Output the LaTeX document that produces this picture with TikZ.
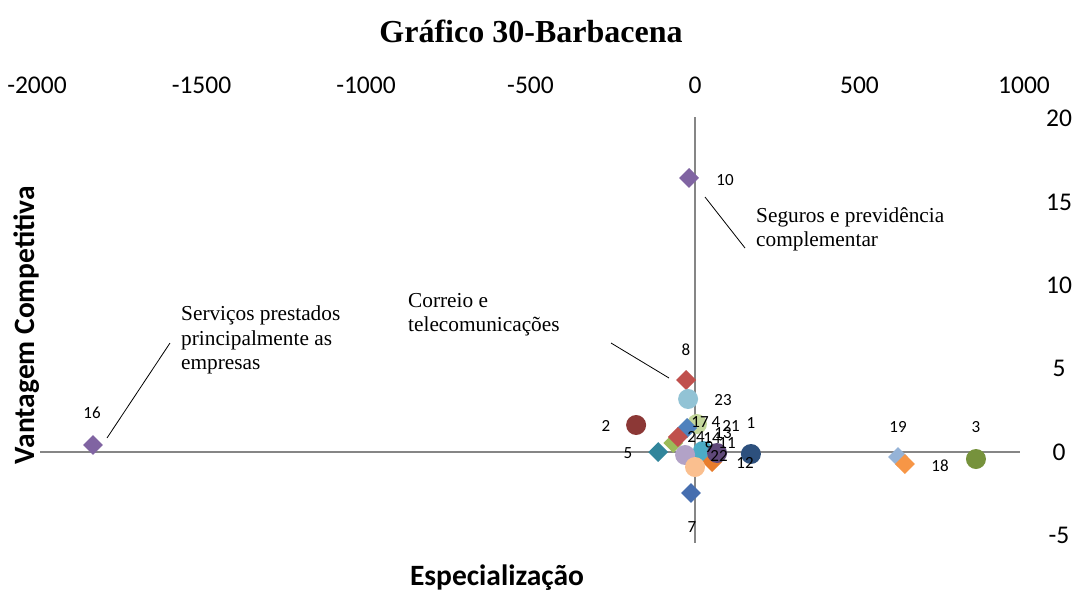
\documentclass[tikz,border=0pt]{standalone}
\usepackage{fontspec}
\setmainfont{Liberation Serif}
\newfontfamily\calib{Carlito}
\usepackage{tikz}
\usetikzlibrary{calc,positioning,shapes.geometric}
\definecolor{axgrey}{RGB}{134,134,134}
\definecolor{c1}{RGB}{45,80,125}
\definecolor{c2}{RGB}{140,56,54}
\definecolor{c3}{RGB}{118,146,60}
\definecolor{c4}{RGB}{79,129,189}
\definecolor{c5}{RGB}{49,133,155}
\definecolor{c7}{RGB}{70,110,175}
\definecolor{c8}{RGB}{192,80,77}
\definecolor{c9}{RGB}{155,187,89}
\definecolor{c10}{RGB}{128,100,162}
\definecolor{c11}{RGB}{75,172,198}
\definecolor{c12}{RGB}{232,125,45}
\definecolor{c14}{RGB}{178,162,199}
\definecolor{c16}{RGB}{128,100,162}
\definecolor{c17}{RGB}{195,214,155}
\definecolor{c18}{RGB}{247,150,70}
\definecolor{c19}{RGB}{149,179,215}
\definecolor{c21}{RGB}{96,73,122}
\definecolor{c22}{RGB}{250,191,143}
\definecolor{c23}{RGB}{146,195,213}
\definecolor{c24}{RGB}{192,80,77}
\begin{document}
\begin{tikzpicture}[x=1pt,y=1pt]

\tikzset{dnode/.style={shape=diamond,inner sep=0pt,minimum size=20pt},
cnode/.style={shape=circle,inner sep=0pt,minimum size=20pt},
ptlabel/.style={font=\calib\fontsize{17}{17}\selectfont,inner sep=0pt},
ticklabel/.style={font=\calib\fontsize{25.5}{25.5}\selectfont,inner sep=0pt},
axtitle/.style={font=\calib\bfseries\fontsize{29.5}{29.5}\selectfont,inner sep=0pt},
callout/.style={font=\fontsize{21.3}{24.5}\selectfont,align=left,inner sep=0pt,anchor=north west},
axisline/.style={draw=axgrey,line width=1.5pt},
callline/.style={draw=black,line width=0.8pt}}

\useasboundingbox (0,0) rectangle (1075,-592);

% Title
\node[font=\bfseries\fontsize{32}{32}\selectfont] (title) at (531,-31) {Gráfico 30-Barbacena};

% Axes
\coordinate (xaxL) at (40,-452); \coordinate (xaxR) at (1020,-452);
\coordinate (yaxT) at (695,-117); \coordinate (yaxB) at (695,-543);
\draw[axisline] (xaxL) -- (xaxR);
\draw[axisline] (yaxT) -- (yaxB);
\foreach \v [count=\i] in {-2000,-1500,...,1000} \node[ticklabel] (xt\i) at ({695+0.329*\v},-85) {\v};
\foreach \v [count=\i] in {-5,0,...,20} \node[ticklabel] (yt\i) at (1059,{-452+16.67*\v}) {\v};
\node[axtitle] (xtitle) at (497,-578) {Especialização};
\node[axtitle,rotate=90] (ytitle) at (27,-325) {Vantagem Competitiva};

% Markers (data coordinates)
\begin{scope}[shift={(695,-452)},x=0.329pt,y=16.67pt]
\foreach \n/\s/\mx/\my in {16/dnode/-1830/0.42, 10/dnode/-18/16.44, 8/dnode/-27/4.32, 23/cnode/-21/3.18,
  2/cnode/-179/1.62, 5/dnode/-112/0, 7/dnode/-12/-2.46, 9/dnode/-66/0.54, 17/cnode/6/1.68,
  4/dnode/-24/1.44, 24/dnode/-52/0.9, 11/cnode/24/0.06, 14/cnode/-30/-0.18, 12/dnode/52/-0.6,
  21/cnode/67/-0.06, 22/cnode/0/-0.9, 1/cnode/170/-0.12, 19/dnode/617/-0.3, 18/dnode/638/-0.72, 3/cnode/854/-0.42}
  \node[\s,fill=c\n] (m\n) at (\mx,\my) {};
\end{scope}

% Point labels
\foreach \n/\px/\py in {16/92/413, 10/725/180, 8/686/350, 23/723/400, 2/606/426, 17/700/422, 4/716/422,
  21/731/426, 1/751/423, 13/723/433, 24/696/437, 14/712/438, 9/709/447, 11/727/443, 22/719/456,
  12/745/463, 5/628/453, 7/692/527, 19/898/427, 3/976/427, 18/940/466}
  \node[ptlabel] (l\n) at (\px,-\py) {\n};

% Callouts
\node[callout] (t16) at (181,-306) {Serviços prestados\\principalmente as\\empresas};
\node[callout] (t8) at (408,-293) {Correio e\\telecomunicações};
\node[callout] (t10) at (756,-207) {Seguros e previdência\\complementar};
\coordinate (a16) at (107,-438); \coordinate (b16) at (170,-343);
\coordinate (a8) at (669,-378); \coordinate (b8) at (611,-343);
\coordinate (a10) at (705,-197); \coordinate (b10) at (745,-248);
\draw[callline] (a16) -- (b16);
\draw[callline] (a8) -- (b8);
\draw[callline] (a10) -- (b10);

\end{tikzpicture}
\end{document}
